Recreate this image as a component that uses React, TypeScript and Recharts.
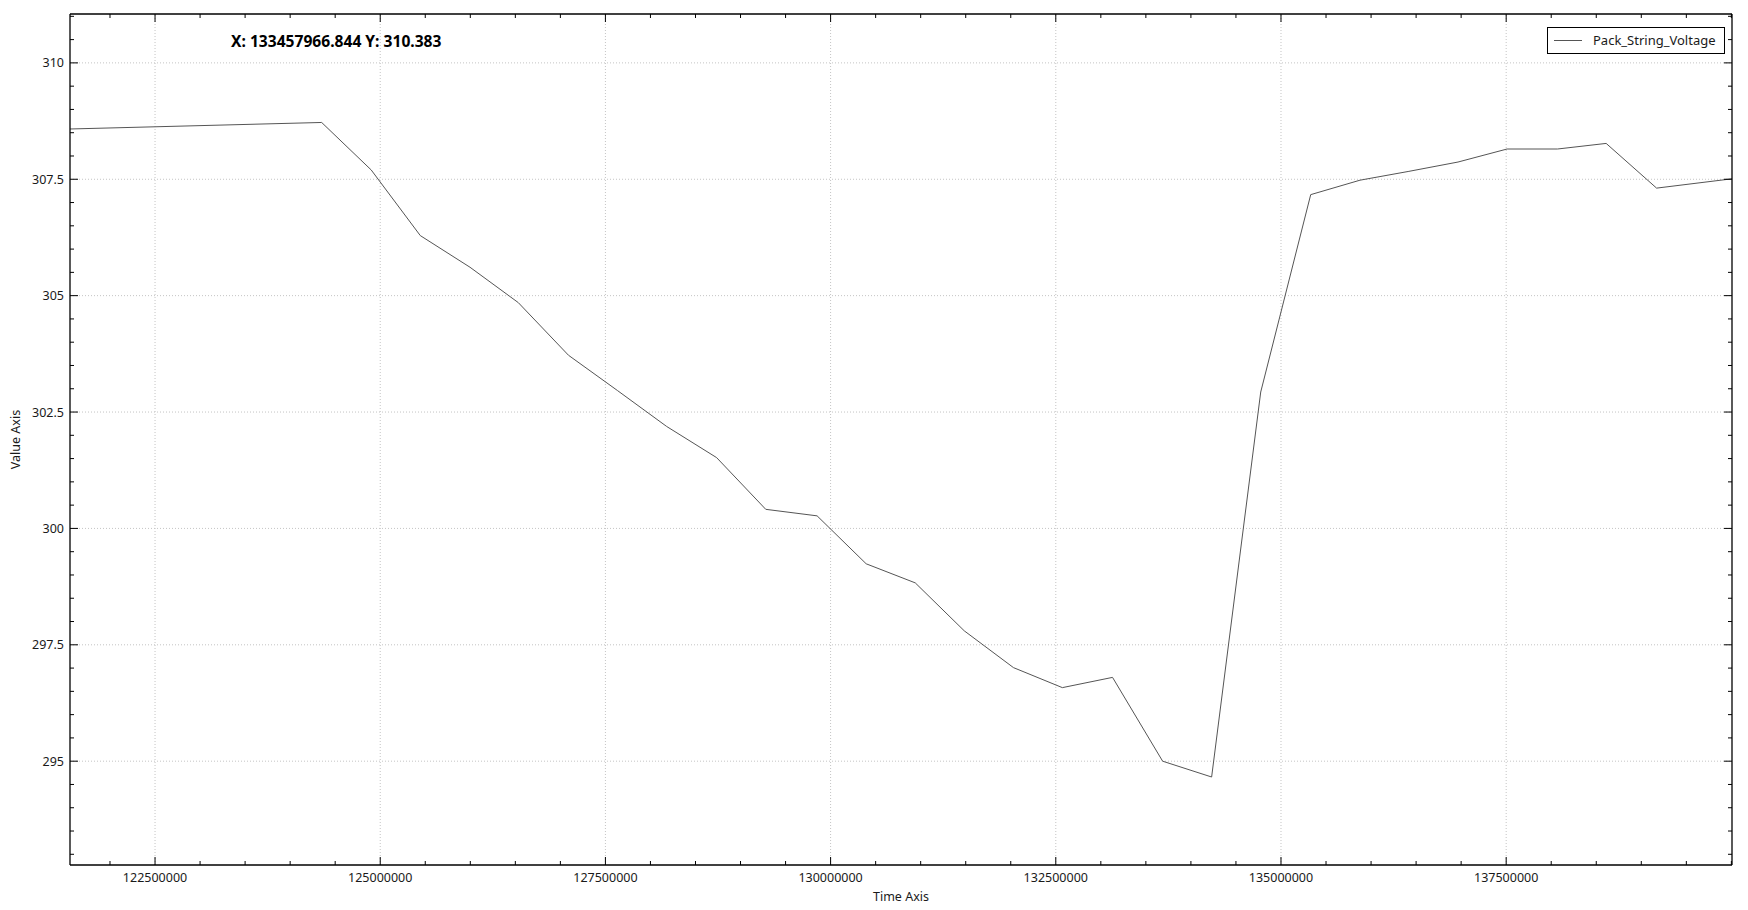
import React from "react";
import {
  Legend,
  Line,
  LineChart,
  ReferenceLine,
  XAxis,
  YAxis,
} from "recharts";

// sample times and Pack_String_Voltage readings
const times = [
  121556000, 124350000, 124900000, 125445000, 125997000, 126533000, 127090000,
  127635000, 128180000, 128735000, 129280000, 129850000, 130395000, 130940000,
  131484000, 132030000, 132573000, 133130000, 133686000, 134230000, 134775000,
  135330000, 135877000, 136420000, 136965000, 137510000, 138070000, 138610000,
  139170000, 140007000,
];
const voltage = [
  308.58, 308.72, 307.7, 306.29, 305.61, 304.85, 303.72, 302.96, 302.19, 301.52,
  300.41, 300.27, 299.24, 298.83, 297.8, 297.01, 296.58, 296.8, 295.0, 294.66,
  302.93, 307.17, 307.48, 307.67, 307.87, 308.15, 308.15, 308.27, 307.31, 307.51,
];

const xMajor = [122500000, 125000000, 127500000, 130000000, 132500000, 135000000, 137500000];
const yMajor = [295, 297.5, 300, 302.5, 305, 307.5, 310];

const xDomain: [number, number] = [121556000, 140007000];
const yDomain: [number, number] = [292.77, 311.05];

const xTicks = Array.from({ length: 37 }, (_, i) => 122000000 + i * 500000);
const yTicks = Array.from({ length: 37 }, (_, i) => 293 + i * 0.5);

const data = times.map((t, i) => ({ time: t, voltage: voltage[i] }));

const FONT = "'Noto Sans', 'DejaVu Sans', sans-serif";
const isMajorX = (v: number) => xMajor.includes(v);
const isMajorY = (v: number) => yMajor.some((m) => Math.abs(m - v) < 1e-9);

const BottomTick = (props: any) => {
  const { x, y, payload } = props;
  const major = isMajorX(payload.value);
  return (
    <g>
      <line x1={x} x2={x} y1={y} y2={y - (major ? 8 : 4)} stroke="#000" />
      {major && (
        <text x={x} y={y + 17} textAnchor="middle" fontSize={12.5} fill="#1a1a1a">
          {payload.value}
        </text>
      )}
    </g>
  );
};

const TopTick = (props: any) => {
  const { x, y, payload } = props;
  const major = isMajorX(payload.value);
  return <line x1={x} x2={x} y1={y} y2={y + (major ? 8 : 4)} stroke="#000" />;
};

const LeftTick = (props: any) => {
  const { x, y, payload } = props;
  const major = isMajorY(payload.value);
  return (
    <g>
      <line x1={x} x2={x + (major ? 8 : 4)} y1={y} y2={y} stroke="#000" />
      {major && (
        <text x={x - 6} y={y + 4.5} textAnchor="end" fontSize={12.5} fill="#1a1a1a">
          {payload.value}
        </text>
      )}
    </g>
  );
};

const RightTick = (props: any) => {
  const { x, y, payload } = props;
  const major = isMajorY(payload.value);
  return <line x1={x} x2={x - (major ? 8 : 4)} y1={y} y2={y} stroke="#000" />;
};

const LegendBox = () => (
  <div
    style={{
      border: "1px solid #000",
      background: "#fff",
      padding: "4px 8px 4px 6px",
      display: "flex",
      alignItems: "center",
      fontSize: 13,
      lineHeight: "17px",
      fontFamily: FONT,
      color: "#1a1a1a",
      whiteSpace: "nowrap",
    }}
  >
    <span style={{ width: 28, height: 0, borderTop: "1px solid #555", marginRight: 11 }} />
    Pack_String_Voltage
  </div>
);

export default function App() {
  return (
    <div style={{ position: "absolute", left: 0, top: 0, width: 1748, height: 910, background: "#fff" }}>
      <LineChart
        width={1748}
        height={910}
        data={data}
        margin={{ top: 13, right: 15, left: 10, bottom: 15 }}
        style={{ fontFamily: FONT }}
      >
        <XAxis
          dataKey="time"
          type="number"
          domain={xDomain}
          allowDataOverflow
          ticks={xTicks}
          interval={0}
          tickSize={0}
          tickMargin={0}
          tickLine={false}
          tick={BottomTick}
          height={30}
          axisLine={{ stroke: "#000", strokeWidth: 1.3 }}
          label={{
            content: (p: any) => (
              <text
                x={p.viewBox.x + p.viewBox.width / 2}
                y={p.viewBox.y + 36}
                textAnchor="middle"
                fontSize={12.5}
                fill="#1a1a1a"
              >
                Time Axis
              </text>
            ),
          }}
        />
        <XAxis
          xAxisId="top"
          dataKey="time"
          orientation="top"
          type="number"
          domain={xDomain}
          allowDataOverflow
          ticks={xTicks}
          interval={0}
          tickSize={0}
          tickMargin={0}
          tickLine={false}
          tick={TopTick}
          height={1}
          axisLine={{ stroke: "#000", strokeWidth: 1.3 }}
        />
        <YAxis
          type="number"
          domain={yDomain}
          allowDataOverflow
          ticks={yTicks}
          interval={0}
          tickSize={0}
          tickMargin={0}
          tickLine={false}
          tick={LeftTick}
          width={60}
          axisLine={{ stroke: "#000", strokeWidth: 1.3 }}
          label={{
            content: (p: any) => {
              const cx = p.viewBox.x + 5;
              const cy = p.viewBox.y + p.viewBox.height / 2;
              return (
                <text
                  x={cx}
                  y={cy}
                  transform={`rotate(-90 ${cx} ${cy})`}
                  textAnchor="middle"
                  dominantBaseline="central"
                  fontSize={12.5}
                  fill="#1a1a1a"
                >
                  Value Axis
                </text>
              );
            },
          }}
        />
        <YAxis
          yAxisId="right"
          orientation="right"
          type="number"
          domain={yDomain}
          allowDataOverflow
          ticks={yTicks}
          interval={0}
          tickSize={0}
          tickMargin={0}
          tickLine={false}
          tick={RightTick}
          width={1}
          axisLine={{ stroke: "#000", strokeWidth: 1.3 }}
        />
        {xMajor.map((v) => (
          <ReferenceLine key={`gx${v}`} x={v} stroke="#c4c4c4" strokeDasharray="1 2" />
        ))}
        {yMajor.map((v) => (
          <ReferenceLine key={`gy${v}`} y={v} stroke="#c4c4c4" strokeDasharray="1 2" />
        ))}
        <Line
          type="linear"
          dataKey="voltage"
          name="Pack_String_Voltage"
          stroke="#555"
          strokeWidth={1}
          dot={false}
          activeDot={false}
          isAnimationActive={false}
        />
        <Legend
          layout="horizontal"
          verticalAlign="middle"
          align="center"
          content={LegendBox}
          wrapperStyle={{ position: "absolute", top: 27, left: 1547, width: "auto", height: "auto" }}
        />
      </LineChart>
      <div
        style={{
          position: "absolute",
          left: 231,
          top: 31,
          fontFamily: FONT,
          fontWeight: 700,
          fontSize: 15.6,
          lineHeight: "20px",
          color: "#000",
          whiteSpace: "nowrap",
        }}
      >
        X: 133457966.844 Y: 310.383
      </div>
    </div>
  );
}
